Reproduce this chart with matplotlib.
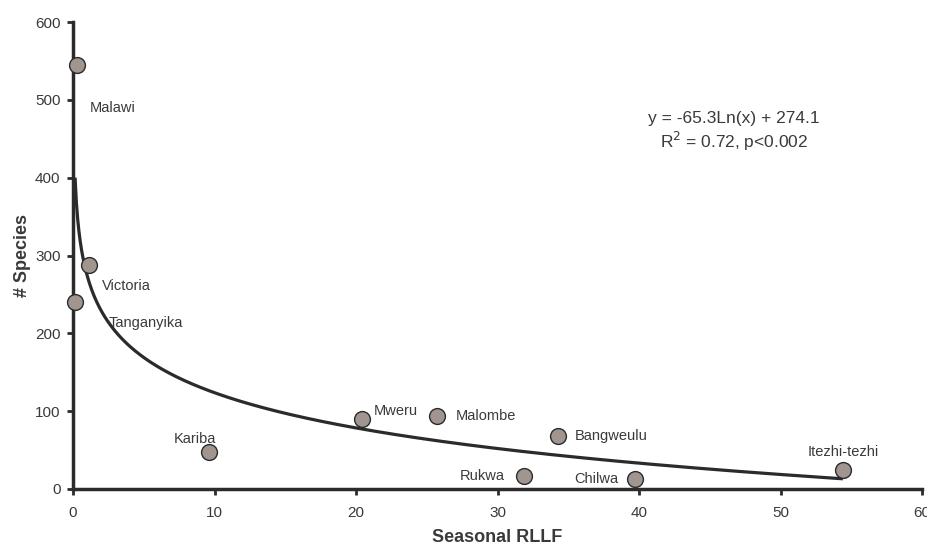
import numpy as np
import matplotlib
matplotlib.use('Agg')
import matplotlib.pyplot as plt

plt.rcParams['font.family'] = ['Liberation Sans', 'DejaVu Sans']

# Lakes: seasonal RLLF vs. number of species
lakes = ['Malawi', 'Victoria', 'Tanganyika', 'Kariba', 'Mweru', 'Malombe',
         'Bangweulu', 'Rukwa', 'Chilwa', 'Itezhi-tezhi']
rllf = [0.28, 1.13, 0.14, 9.6, 20.4, 25.7, 34.3, 31.9, 39.7, 54.4]
species = [545, 288, 240, 47, 90, 94, 68, 17, 13, 24]

# fitted log curve y = a*ln(x) + b
fit_a = -65.3
fit_b = 274.1
fit_xmin = 0.145
fit_xmax = 54.4

# label offsets (points) and alignment
offsets = [(9, -31), (9, -15), (24, -15), (-10, 10), (9, 6), (14, 0),
           (12, 0), (-14, 0), (-12, 0), (0, 13)]
aligns = ['left', 'left', 'left', 'center', 'left', 'left',
          'left', 'right', 'right', 'center']

dark = '#2b2b2b'
txt = '#3a3a3a'

fig = plt.figure(figsize=(9.28, 5.46), dpi=100)
ax = fig.add_axes([0.0787, 0.1044, 0.915, 0.855])

xs = np.linspace(fit_xmin, fit_xmax, 600)
ax.plot(xs, fit_a * np.log(xs) + fit_b, color=dark, lw=2.3, zorder=2,
        solid_capstyle='butt')

ax.scatter(rllf, species, s=130, facecolor='#a0958f', edgecolor=dark,
           linewidth=1.0, zorder=3, clip_on=False)

for name, x, y, off, ha in zip(lakes, rllf, species, offsets, aligns):
    ax.annotate(name, (x, y), xytext=off, textcoords='offset points',
                ha=ha, va='center', fontsize=10.5, color=txt)

ax.text(0.778, 0.764, 'y = -65.3Ln(x) + 274.1\nR$^2$ = 0.72, p<0.002',
        transform=ax.transAxes, ha='center', va='center', fontsize=12.5,
        color=txt, linespacing=1.2)

ax.set_xlim(0, 60)
ax.set_ylim(0, 600)
ax.set_xticks(range(0, 61, 10))
ax.set_yticks(range(0, 601, 100))
for s in ['top', 'right']:
    ax.spines[s].set_visible(False)
for s in ['left', 'bottom']:
    ax.spines[s].set_linewidth(2.5)
    ax.spines[s].set_color(dark)
ax.tick_params(direction='out', length=4, width=2, color=dark,
               labelsize=11, labelcolor=txt)
ax.tick_params(axis='x', pad=8)
ax.tick_params(axis='y', pad=5)

ax.set_xlabel('Seasonal RLLF', fontsize=13, fontweight='bold', color=txt,
              labelpad=7)
ax.set_ylabel('# Species', fontsize=13, fontweight='bold', color=txt,
              labelpad=3)

fig.savefig('out.png', dpi=100)
